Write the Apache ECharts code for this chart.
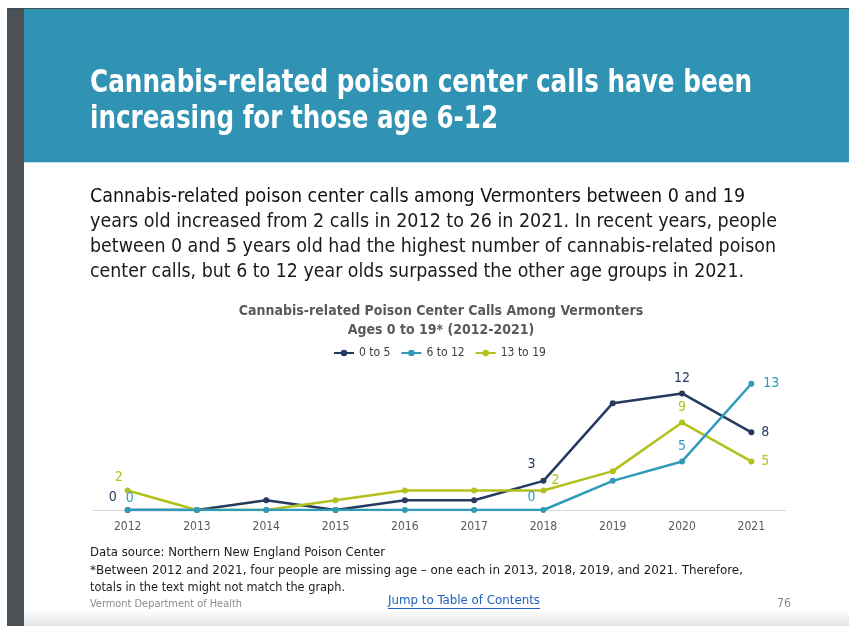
<!DOCTYPE html>
<html>
<head>
<meta charset="utf-8">
<script src="https://cdn.jsdelivr.net/npm/echarts@6/dist/echarts.min.js"></script>
<style>
html,body{margin:0;padding:0;background:#fff;}
#c{width:849px;height:626px;}
</style>
</head>
<body>
<div id="c"></div>
<script>
// ---- data ----
const years = ['2012','2013','2014','2015','2016','2017','2018','2019','2020','2021'];
const seriesNames = ['0 to 5','6 to 12','13 to 19'];
const age0to5   = [0,0,1,0,1,1,3,11,12,8];
const age6to12  = [0,0,0,0,0,0,0,3,5,13];
const age13to19 = [2,0,0,1,2,2,2,4,9,5];
// indices of points whose value is labelled
const labelled0to5   = [0,6,8,9];
const labelled6to12  = [0,6,8,9];
const labelled13to19 = [0,6,8,9];

const headerLines = ['Cannabis-related poison center calls have been','increasing for those age 6-12'];
const bodyLines = [
  'Cannabis-related poison center calls among Vermonters between 0 and 19',
  'years old increased from 2 calls in 2012 to 26 in 2021. In recent years, people',
  'between 0 and 5 years old had the highest number of cannabis-related poison',
  'center calls, but 6 to 12 year olds surpassed the other age groups in 2021.'
];
const chartTitle = 'Cannabis-related Poison Center Calls Among Vermonters\nAges 0 to 19* (2012-2021)';
const footLines = [
  'Data source: Northern New England Poison Center',
  '*Between 2012 and 2021, four people are missing age \u2013 one each in 2013, 2018, 2019, and 2021. Therefore,',
  'totals in the text might not match the graph.'
];
const orgText = 'Vermont Department of Health';
const linkText = 'Jump to Table of Contents';
const pageNum = '76';

// ---- style ----
const FONT = "'Liberation Sans Narrow','DejaVu Sans Condensed','Liberation Sans',sans-serif";
const C_NAVY = '#243a5f', C_TEAL = '#2f9bb9', C_LIME = '#b3c11c';
const colors = [C_NAVY, C_TEAL, C_LIME];

const mctx = document.createElement('canvas').getContext('2d');
function measure(text, size, weight){
  mctx.font = (weight||'normal') + ' ' + size + 'px ' + FONT;
  return mctx.measureText(text).width;
}
function fitText(text, left, right, midY, size, weight, color){
  const w = measure(text, size, weight);
  const s = (right-left)/w;
  return {type:'text', x:left, y:midY, scaleX:s, silent:true, z:10,
    style:{x:0, y:0, text:text, fontFamily:FONT, fontSize:size, fontWeight:weight||'normal',
      fill:color, align:'left', verticalAlign:'middle'}};
}

// label placement per series (style only)
const labelPos = [
  {0:{position:'left',distance:8,offset:[0,-13]}, 6:{position:'top',offset:[-12,-1]}, 8:{position:'top'}, 9:{position:'right',distance:7}},
  {0:{position:'top',distance:2,offset:[2,0]}, 6:{position:'top',distance:3,offset:[-12,0]}, 8:{position:'top'}, 9:{position:'right',distance:9}},
  {0:{position:'top',distance:3,offset:[-9,0]}, 6:{position:'right',distance:5,offset:[0,-10]}, 8:{position:'top'}, 9:{position:'right',distance:7}}
];
const allValues = [age0to5, age6to12, age13to19];
const allLabelled = [labelled0to5, labelled6to12, labelled13to19];

function buildData(si){
  return allValues[si].map((v,i)=>{
    if(allLabelled[si].indexOf(i) < 0) return v;
    const p = labelPos[si][i];
    return {value:v, label:Object.assign({show:true, color:colors[si], fontSize:14, fontFamily:FONT}, p)};
  });
}

const chart = echarts.init(document.getElementById('c'), null, {renderer:'canvas'});

const graphics = [
  // left dark strip
  {type:'rect', shape:{x:7,y:8,width:17,height:618}, style:{fill:'#4c5155'}, silent:true},
  // header band
  {type:'rect', shape:{x:24,y:8,width:825,height:154}, style:{fill:'#3193b3'}, silent:true},
  {type:'rect', shape:{x:7,y:8,width:842,height:1}, style:{fill:'#3e4c58'}, silent:true},
  {type:'rect', shape:{x:24,y:162,width:825,height:1}, style:{fill:'#bfe0ea'}, silent:true},
  // bottom shade
  {type:'rect', shape:{x:24,y:610,width:825,height:16}, silent:true,
    style:{fill:new echarts.graphic.LinearGradient(0,0,0,1,[{offset:0,color:'#ffffff'},{offset:1,color:'#e4e4e4'}])}},
  fitText(headerLines[0], 90, 752, 84, 32, 'bold', '#ffffff'),
  fitText(headerLines[1], 90, 498, 120, 32, 'bold', '#ffffff'),
  fitText(bodyLines[0], 90, 745, 197, 20, 'normal', '#111111'),
  fitText(bodyLines[1], 90, 777, 222, 20, 'normal', '#1a1a1a'),
  fitText(bodyLines[2], 90, 776, 247, 20, 'normal', '#1a1a1a'),
  fitText(bodyLines[3], 90, 744, 272, 20, 'normal', '#1a1a1a'),
  fitText(footLines[0], 90, 385, 553, 13, 'normal', '#1a1a1a'),
  fitText(footLines[1], 90, 743, 571, 13, 'normal', '#1a1a1a'),
  fitText(footLines[2], 90, 345, 588, 13, 'normal', '#1a1a1a'),
  fitText(orgText, 90, 242, 604, 11, 'normal', '#8a8a8a'),
  fitText(linkText, 388, 540, 601, 13, 'normal', '#1f5fc0'),
  {type:'rect', shape:{x:388,y:608,width:152,height:1}, style:{fill:'#1f5fc0'}, silent:true},
  fitText(pageNum, 777, 791, 604, 12, 'normal', '#8a8a8a')
];

const option = {
  backgroundColor:'#ffffff',
  animation:false,
  color: colors,
  title:{
    text: chartTitle, left: 436, top: 297, textAlign:'center',
    textStyle:{fontFamily:FONT, fontSize:14, fontWeight:'bold', color:'#595959', lineHeight:19}
  },
  legend:{
    data: seriesNames, left: 333, top: 347, itemWidth: 20, itemHeight: 8, itemGap: 10,
    textStyle:{fontFamily:FONT, fontSize:12, color:'#404040'},
    padding:0
  },
  grid:{left:93, right:63, top:374, bottom:116},
  xAxis:{
    type:'category', data: years, boundaryGap:true,
    axisLine:{lineStyle:{color:'#d9d9d9', width:1}},
    axisTick:{show:false},
    axisLabel:{color:'#595959', fontSize:12, fontFamily:FONT, margin:11}
  },
  yAxis:{type:'value', min:0, max:14, show:false, splitLine:{show:false}},
  series: seriesNames.map((n,si)=>({
    name:n, type:'line', data: buildData(si),
    symbol:'circle', symbolSize:6, showAllSymbol:true,
    lineStyle:{width:2.5, color:colors[si]},
    itemStyle:{color:colors[si]},
    z: 3 + (si===1?1:0)
  })),
  graphic: graphics
};
chart.setOption(option);
</script>
</body>
</html>
